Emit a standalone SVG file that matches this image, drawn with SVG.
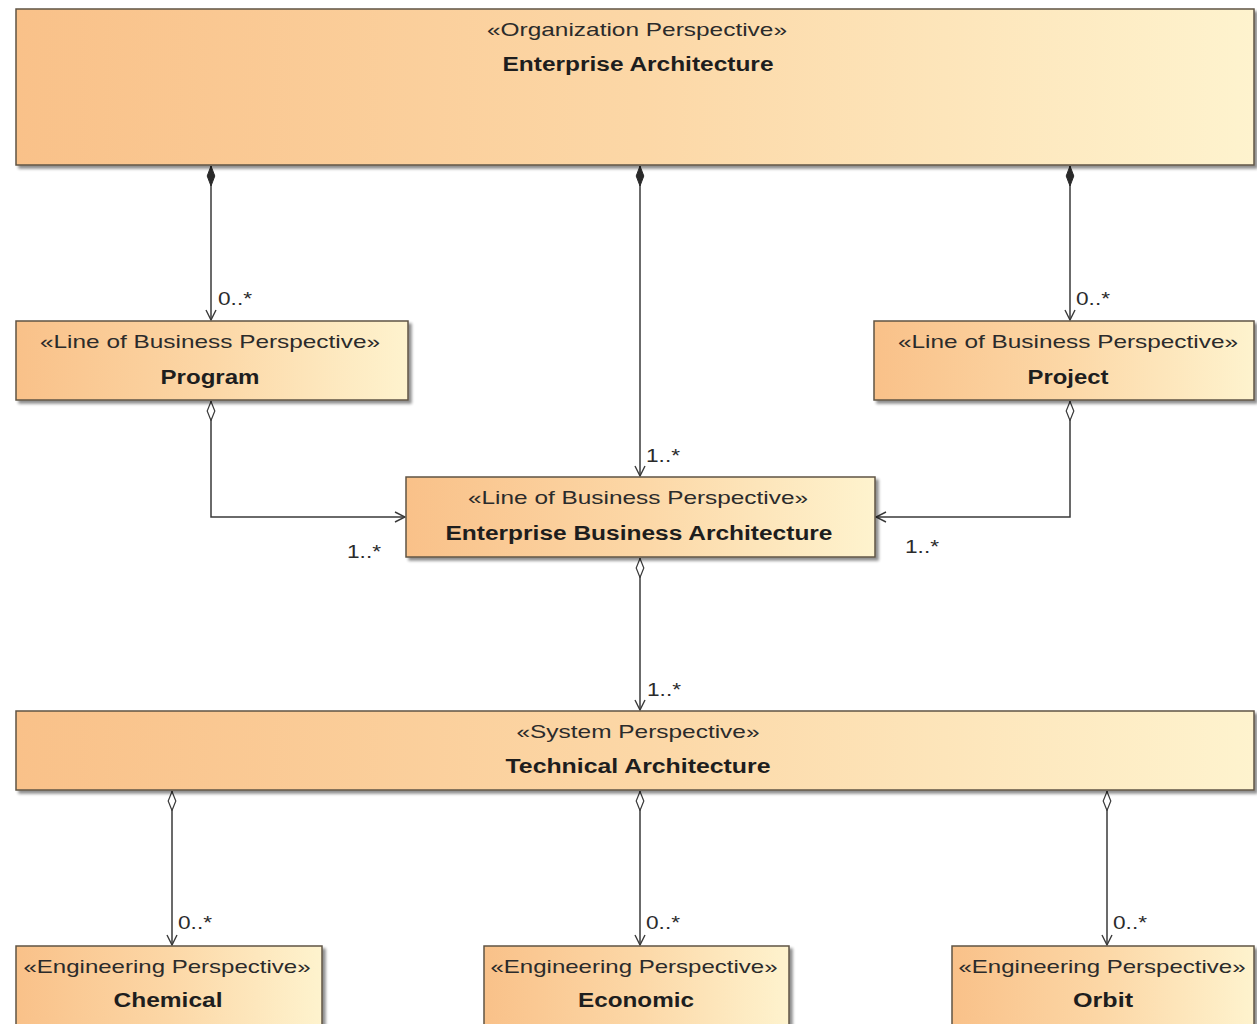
<svg xmlns="http://www.w3.org/2000/svg" width="1257" height="1024" viewBox="0 0 1257 1024">
  <defs>
    <linearGradient id="fill" x1="0" y1="0" x2="1" y2="0">
      <stop offset="0" stop-color="#F9C189"/>
      <stop offset="0.5" stop-color="#FCD7A6"/>
      <stop offset="1" stop-color="#FEF3CE"/>
    </linearGradient>
    <filter id="shadow" x="-5%" y="-10%" width="110%" height="130%">
      <feGaussianBlur in="SourceAlpha" stdDeviation="1.5"/>
      <feOffset dx="3" dy="3" result="b"/>
      <feComponentTransfer><feFuncA type="linear" slope="0.45"/></feComponentTransfer>
      <feMerge><feMergeNode/><feMergeNode in="SourceGraphic"/></feMerge>
    </filter>
    <marker id="open" viewBox="0 0 12 12" refX="11" refY="6" markerWidth="12" markerHeight="12" markerUnits="userSpaceOnUse" orient="auto">
      <path d="M1,1 L11,6 L1,11" fill="none" stroke="#3a3a3a" stroke-width="1.4"/>
    </marker>
    <marker id="filledDiamond" viewBox="0 0 20 10" refX="0" refY="5" markerWidth="20" markerHeight="10" markerUnits="userSpaceOnUse" orient="auto">
      <path d="M0,5 L10,1.2 L20,5 L10,8.8 Z" fill="#2a2a2a" stroke="#2a2a2a" stroke-width="1"/>
    </marker>
    <marker id="hollowDiamond" viewBox="0 0 20 10" refX="0" refY="5" markerWidth="20" markerHeight="10" markerUnits="userSpaceOnUse" orient="auto">
      <path d="M0.5,5 L10,1.2 L19.5,5 L10,8.8 Z" fill="#ffffff" stroke="#3a3a3a" stroke-width="1.2"/>
    </marker>
  </defs>
  <style>
    .box { fill: url(#fill); stroke: #5f5446; stroke-width: 1.5; filter: url(#shadow); }
    .st { font-family: "Liberation Sans", Arial, sans-serif; font-size: 19px; fill: #2b2b2b; text-anchor: middle; }
    .nm { font-family: "Liberation Sans", Arial, sans-serif; font-size: 20px; font-weight: bold; fill: #1e1e1e; text-anchor: middle; }
    .mult { font-family: "Liberation Sans", Arial, sans-serif; font-size: 18px; fill: #2b2b2b; }
    .conn { fill: none; stroke: #3a3a3a; stroke-width: 1.5; }
  </style>

  <rect width="1257" height="1024" fill="#ffffff"/>

  <!-- Connectors -->
  <g id="connectors">
    <path class="conn" d="M211,166 L211,320" marker-start="url(#filledDiamond)" marker-end="url(#open)"/>
    <path class="conn" d="M640,166 L640,476" marker-start="url(#filledDiamond)" marker-end="url(#open)"/>
    <path class="conn" d="M1070,166 L1070,320" marker-start="url(#filledDiamond)" marker-end="url(#open)"/>
    <path class="conn" d="M211,401 L211,517 L405,517" marker-start="url(#hollowDiamond)" marker-end="url(#open)"/>
    <path class="conn" d="M1070,401 L1070,517 L876,517" marker-start="url(#hollowDiamond)" marker-end="url(#open)"/>
    <path class="conn" d="M640,558 L640,710" marker-start="url(#hollowDiamond)" marker-end="url(#open)"/>
    <path class="conn" d="M172,791 L172,945" marker-start="url(#hollowDiamond)" marker-end="url(#open)"/>
    <path class="conn" d="M640,791 L640,945" marker-start="url(#hollowDiamond)" marker-end="url(#open)"/>
    <path class="conn" d="M1107,791 L1107,945" marker-start="url(#hollowDiamond)" marker-end="url(#open)"/>

    <text class="mult" x="218" y="305" textLength="34" lengthAdjust="spacingAndGlyphs">0..*</text>
    <text class="mult" x="646" y="462" textLength="34" lengthAdjust="spacingAndGlyphs">1..*</text>
    <text class="mult" x="1076" y="305" textLength="34" lengthAdjust="spacingAndGlyphs">0..*</text>
    <text class="mult" x="347" y="558" textLength="34" lengthAdjust="spacingAndGlyphs">1..*</text>
    <text class="mult" x="905" y="553" textLength="34" lengthAdjust="spacingAndGlyphs">1..*</text>
    <text class="mult" x="647" y="696" textLength="34" lengthAdjust="spacingAndGlyphs">1..*</text>
    <text class="mult" x="178" y="929" textLength="34" lengthAdjust="spacingAndGlyphs">0..*</text>
    <text class="mult" x="646" y="929" textLength="34" lengthAdjust="spacingAndGlyphs">0..*</text>
    <text class="mult" x="1113" y="929" textLength="34" lengthAdjust="spacingAndGlyphs">0..*</text>
  </g>

  <!-- Enterprise Architecture -->
  <g id="enterprise-architecture">
    <rect class="box" x="16" y="9" width="1238" height="156"/>
    <text class="st" x="637" y="36" textLength="300" lengthAdjust="spacingAndGlyphs">«Organization Perspective»</text>
    <text class="nm" x="638" y="71" textLength="271" lengthAdjust="spacingAndGlyphs">Enterprise Architecture</text>
  </g>

  <!-- Program -->
  <g id="program">
    <rect class="box" x="16" y="321" width="392" height="79"/>
    <text class="st" x="210" y="348" textLength="340" lengthAdjust="spacingAndGlyphs">«Line of Business Perspective»</text>
    <text class="nm" x="210" y="384" textLength="99" lengthAdjust="spacingAndGlyphs">Program</text>
  </g>

  <!-- Project -->
  <g id="project">
    <rect class="box" x="874" y="321" width="380" height="79"/>
    <text class="st" x="1068" y="348" textLength="340" lengthAdjust="spacingAndGlyphs">«Line of Business Perspective»</text>
    <text class="nm" x="1068" y="384" textLength="81" lengthAdjust="spacingAndGlyphs">Project</text>
  </g>

  <!-- Enterprise Business Architecture -->
  <g id="enterprise-business-architecture">
    <rect class="box" x="406" y="477" width="469" height="80"/>
    <text class="st" x="638" y="504" textLength="340" lengthAdjust="spacingAndGlyphs">«Line of Business Perspective»</text>
    <text class="nm" x="639" y="540" textLength="387" lengthAdjust="spacingAndGlyphs">Enterprise Business Architecture</text>
  </g>

  <!-- Technical Architecture -->
  <g id="technical-architecture">
    <rect class="box" x="16" y="711" width="1238" height="79"/>
    <text class="st" x="638" y="738" textLength="243" lengthAdjust="spacingAndGlyphs">«System Perspective»</text>
    <text class="nm" x="638" y="773" textLength="265" lengthAdjust="spacingAndGlyphs">Technical Architecture</text>
  </g>

  <!-- Chemical -->
  <g id="chemical">
    <rect class="box" x="16" y="946" width="306" height="90"/>
    <text class="st" x="167" y="973" textLength="287" lengthAdjust="spacingAndGlyphs">«Engineering Perspective»</text>
    <text class="nm" x="168" y="1007" textLength="109" lengthAdjust="spacingAndGlyphs">Chemical</text>
  </g>

  <!-- Economic -->
  <g id="economic">
    <rect class="box" x="484" y="946" width="305" height="90"/>
    <text class="st" x="634" y="973" textLength="287" lengthAdjust="spacingAndGlyphs">«Engineering Perspective»</text>
    <text class="nm" x="636" y="1007" textLength="116" lengthAdjust="spacingAndGlyphs">Economic</text>
  </g>

  <!-- Orbit -->
  <g id="orbit">
    <rect class="box" x="952" y="946" width="302" height="90"/>
    <text class="st" x="1102" y="973" textLength="287" lengthAdjust="spacingAndGlyphs">«Engineering Perspective»</text>
    <text class="nm" x="1103" y="1007" textLength="60" lengthAdjust="spacingAndGlyphs">Orbit</text>
  </g>
</svg>
